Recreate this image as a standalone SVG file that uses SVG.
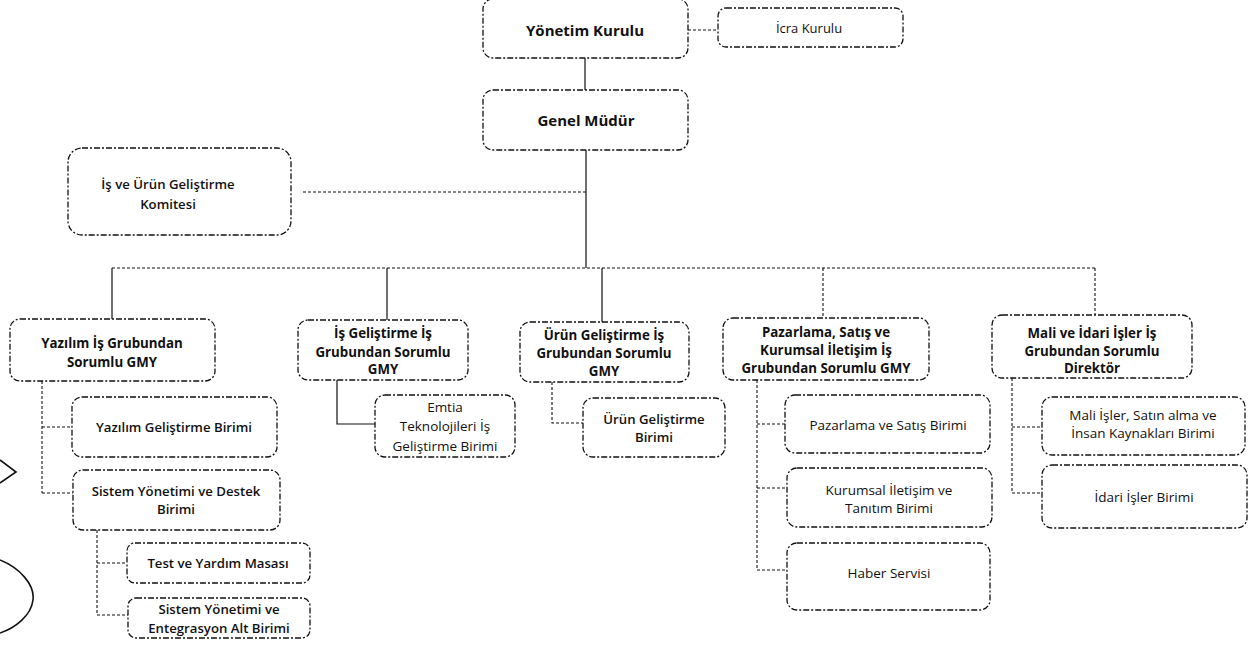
<svg xmlns="http://www.w3.org/2000/svg" width="1254" height="645" viewBox="0 0 1254 645">
<style>
.b{fill:#fff;stroke:#111;stroke-width:1.3;stroke-dasharray:6 2 2 2}
.t{font-family:"Open Sans","Liberation Sans",sans-serif;fill:#111;text-anchor:middle;dominant-baseline:central}
.bo{font-weight:700;font-size:13.3px}
.sb{font-weight:600;font-size:13.2px}
.n{font-weight:400;font-size:13.5px}
.c{fill:none;stroke:#111;stroke-width:1.1;stroke-dasharray:3 2}
.s{fill:none;stroke:#111;stroke-width:1.2}
</style>
<rect width="1254" height="645" fill="#fff"/>
<g id="connectors">
<path class="s" d="M585,58 V90"/>
<path class="c" d="M688,30 H718"/>
<path class="s" d="M586,150 V268"/>
<path class="c" d="M303,192 H586"/>
<path class="c" d="M112,268 H1095"/>
<path class="s" d="M112,268 V319"/>
<path class="s" d="M387,268 V320"/>
<path class="s" d="M602,268 V322"/>
<path class="c" d="M823,268 V318"/>
<path class="c" d="M1095,268 V315"/>
<path class="c" d="M42,381 V493 M42,427 H72 M42,493 H73"/>
<path class="c" d="M97,530 V615 H128 M97,563 H127"/>
<path class="s" d="M337,380 V424 H375"/>
<path class="c" d="M552,382 V423 H583"/>
<path class="c" d="M757,380 V570 H787 M757,424 H785 M757,488 H787"/>
<path class="c" d="M1012,378 V493 H1042 M1012,427 H1042"/>
</g>
<g id="yonetim-kurulu"><rect class="b" x="483" y="-1" width="205" height="59" rx="10"/><text class="t" font-weight="700" x="585" y="30" font-size="15">Yönetim Kurulu</text></g>
<g id="icra-kurulu"><rect class="b" x="718" y="8" width="185" height="39" rx="8"/><text class="t" x="809" y="28" font-size="13">İcra Kurulu</text></g>
<g id="genel-mudur"><rect class="b" x="483" y="90" width="205" height="60" rx="10"/><text class="t" font-weight="700" x="586" y="120" font-size="15">Genel Müdür</text></g>
<g id="komite"><rect class="b" x="68" y="148" width="223" height="87" rx="14"/><text class="t sb" font-size="13.5"><tspan x="168" y="184">İş ve Ürün Geliştirme</tspan><tspan x="168" y="204">Komitesi</tspan></text></g>
<g id="yazilim-gmy"><rect class="b" x="10" y="319" width="205" height="62" rx="10"/><text class="t bo"><tspan x="112" y="343">Yazılım İş Grubundan</tspan><tspan x="112" y="362">Sorumlu GMY</tspan></text></g>
<g id="yazilim-gelistirme"><rect class="b" x="72" y="397" width="205" height="60" rx="10"/><text class="t sb" x="174" y="427">Yazılım Geliştirme Birimi</text></g>
<g id="sistem-destek"><rect class="b" x="73" y="470" width="207" height="60" rx="10"/><text class="t sb"><tspan x="176" y="491">Sistem Yönetimi ve Destek</tspan><tspan x="176" y="509">Birimi</tspan></text></g>
<g id="test-yardim"><rect class="b" x="127" y="543" width="183" height="40" rx="8"/><text class="t sb" x="218" y="563">Test ve Yardım Masası</text></g>
<g id="sistem-entegrasyon"><rect class="b" x="128" y="598" width="182" height="40" rx="8"/><text class="t sb"><tspan x="219" y="609">Sistem Yönetimi ve</tspan><tspan x="219" y="628">Entegrasyon Alt Birimi</tspan></text></g>
<g id="is-gelistirme-gmy"><rect class="b" x="298" y="320" width="170" height="60" rx="10"/><text class="t bo"><tspan x="383" y="333">İş Geliştirme İş</tspan><tspan x="383" y="352">Grubundan Sorumlu</tspan><tspan x="383" y="369">GMY</tspan></text></g>
<g id="emtia"><rect class="b" x="375" y="395" width="140" height="62" rx="10"/><text class="t n"><tspan x="445" y="407">Emtia</tspan><tspan x="445" y="426">Teknolojileri İş</tspan><tspan x="445" y="446">Geliştirme Birimi</tspan></text></g>
<g id="urun-gmy"><rect class="b" x="520" y="322" width="169" height="60" rx="10"/><text class="t bo"><tspan x="604" y="335">Ürün Geliştirme İş</tspan><tspan x="604" y="353">Grubundan Sorumlu</tspan><tspan x="604" y="371">GMY</tspan></text></g>
<g id="urun-gelistirme"><rect class="b" x="583" y="398" width="142" height="59" rx="10"/><text class="t sb"><tspan x="654" y="419">Ürün Geliştirme</tspan><tspan x="654" y="437">Birimi</tspan></text></g>
<g id="pazarlama-gmy"><rect class="b" x="723" y="318" width="206" height="62" rx="10"/><text class="t bo"><tspan x="826" y="332">Pazarlama, Satış ve</tspan><tspan x="826" y="350">Kurumsal İletişim İş</tspan><tspan x="826" y="368">Grubundan Sorumlu GMY</tspan></text></g>
<g id="pazarlama-satis"><rect class="b" x="785" y="395" width="205" height="58" rx="10"/><text class="t n" x="888" y="425">Pazarlama ve Satış Birimi</text></g>
<g id="kurumsal"><rect class="b" x="787" y="468" width="205" height="59" rx="10"/><text class="t n"><tspan x="889" y="490">Kurumsal İletişim ve</tspan><tspan x="889" y="508">Tanıtım Birimi</tspan></text></g>
<g id="haber"><rect class="b" x="787" y="543" width="203" height="67" rx="10"/><text class="t n" x="889" y="573">Haber Servisi</text></g>
<g id="mali-direktor"><rect class="b" x="992" y="315" width="200" height="63" rx="10"/><text class="t bo"><tspan x="1092" y="333">Mali ve İdari İşler İş</tspan><tspan x="1092" y="351">Grubundan Sorumlu</tspan><tspan x="1092" y="368">Direktör</tspan></text></g>
<g id="mali-isler"><rect class="b" x="1042" y="397" width="203" height="58" rx="10"/><text class="t n"><tspan x="1143" y="415">Mali İşler, Satın alma ve</tspan><tspan x="1143" y="433">İnsan Kaynakları Birimi</tspan></text></g>
<g id="idari-isler"><rect class="b" x="1042" y="465" width="205" height="63" rx="10"/><text class="t n" x="1144" y="497">İdari İşler Birimi</text></g>
<path fill="none" stroke="#111" stroke-width="1.6" d="M0,460 L16,472 L0,483 M0,560 C20,568 35,585 33,600 C31,616 15,628 0,633"/>
</svg>
